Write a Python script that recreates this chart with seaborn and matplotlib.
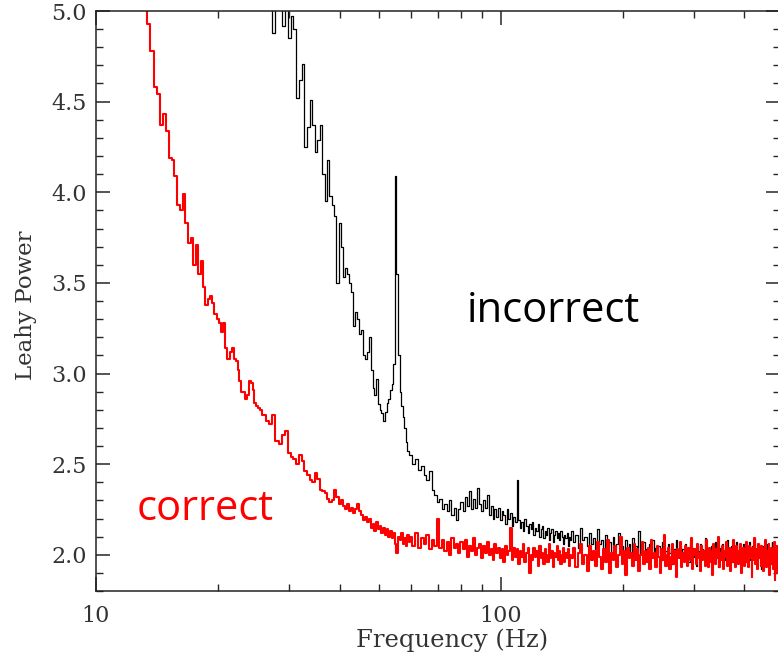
import numpy as np
import pandas as pd
import matplotlib
matplotlib.use("Agg")
import matplotlib.pyplot as plt
import seaborn as sns
from matplotlib.ticker import FixedLocator, FixedFormatter, MultipleLocator, NullFormatter, FormatStrFormatter

# ---------------- data (Leahy power vs frequency) ----------------
# "correct" spectrum (red), piecewise regular frequency grids
red_a_start, red_a_step = 12.0, 0.25
red_a = [5.90, 5.75, 5.60, 5.45, 5.30, 5.12,
         4.93, 4.78, 4.58, 4.54, 4.37, 4.43, 4.34, 4.19, 4.18, 4.09,
         3.93, 3.90, 3.99, 3.83, 3.72, 3.75, 3.60, 3.71, 3.55, 3.62,
         3.48, 3.38, 3.41, 3.43, 3.39, 3.33, 3.30, 3.28,
         3.23, 3.28, 3.14, 3.08, 3.12, 3.14, 3.08, 3.07, 3.02, 2.96,
         2.90, 2.90, 2.86, 2.88, 2.96, 2.95, 2.91, 2.84, 2.82, 2.81, 2.80]
red_b_start, red_b_step = 26.0, 0.5
red_b = [2.77, 2.74, 2.72, 2.77, 2.63, 2.61, 2.66, 2.68, 2.56, 2.54,
         2.53, 2.50, 2.55, 2.52, 2.46, 2.44, 2.41, 2.40, 2.45, 2.42,
         2.36, 2.35, 2.34, 2.31, 2.29, 2.30, 2.36, 2.32, 2.28, 2.30,
         2.27, 2.25, 2.28, 2.24, 2.26, 2.23, 2.25, 2.28, 2.24, 2.22,
         2.19, 2.21, 2.18, 2.20, 2.15, 2.17, 2.13, 2.18, 2.14, 2.16,
         2.12, 2.15, 2.11, 2.14, 2.10, 2.13, 2.09, 2.12, 2.06, 2.01,
         2.10, 2.08, 2.12, 2.06, 2.09, 2.05, 2.11, 2.07]
red_c_start, red_c_step = 60.0, 1.0
red_c = [2.10, 2.05, 2.12, 2.04, 2.09, 2.06, 2.11, 2.03, 2.08, 2.05,
         2.20, 2.04, 2.08, 2.02, 2.07, 2.00, 2.09, 2.04, 2.06, 2.01,
         2.07, 2.03, 2.08, 1.99, 2.05, 2.02, 2.09, 2.00, 2.04, 2.06,
         1.98, 2.05, 2.01, 2.07, 2.00, 2.03, 1.97, 2.06, 2.01, 2.04,
         1.98, 2.03, 1.96, 2.05, 2.00, 2.02, 2.15, 1.97, 2.04, 1.99,
         2.03, 1.95, 2.02, 1.99, 2.06, 1.96, 2.01, 2.04, 1.90, 2.00,
         1.97, 2.04, 1.99, 2.02, 1.94, 2.05, 1.98, 2.01, 1.95, 2.03,
         2.00, 1.96, 2.06, 1.98, 2.02, 1.93, 2.01, 1.99, 2.05, 1.97,
         2.02, 1.95, 2.00, 2.04, 1.96, 2.01, 1.98, 2.03, 1.94, 2.00]
red_d_start, red_d_step = 150.0, 2.0
red_d = [1.98, 2.04, 1.93, 2.01, 2.06, 1.95, 2.00, 1.91, 2.05, 1.97,
         2.02, 1.94, 2.07, 1.99, 1.92, 2.03, 1.96, 2.08, 1.90, 2.01,
         1.97, 2.05, 1.93, 2.00, 2.10, 1.95, 2.02, 1.89, 2.04, 1.98,
         2.01, 1.94, 2.06, 1.97, 2.03, 1.91, 2.00, 2.07, 1.95, 2.02,
         1.96, 2.04, 1.92, 2.08, 1.98, 2.01, 1.93, 2.05, 1.99, 1.90,
         2.03, 1.97, 2.11, 1.94, 2.00, 2.04, 1.92, 1.99, 2.06, 1.95,
         2.02, 1.88, 2.03, 1.98, 2.07, 1.93, 2.01, 1.96, 2.05, 1.99,
         1.94, 2.04, 1.97, 2.09, 1.92, 2.00, 2.03, 1.95, 2.06, 1.98,
         2.01, 1.91, 2.05, 1.97, 2.02, 1.94, 2.08, 1.99, 1.93, 2.04,
         1.96, 2.02, 1.89, 2.06, 2.00, 1.95, 2.03, 1.98, 2.10, 1.93,
         2.01, 1.97, 2.05, 1.92, 2.02, 1.99, 2.07, 1.94, 2.00, 2.04,
         1.91, 2.03, 1.96, 2.08, 1.98, 1.93, 2.05, 2.00, 1.95, 2.02,
         1.97, 2.06, 1.90, 2.01, 2.04, 1.94, 1.99, 2.07, 1.96, 2.02,
         1.93, 2.05, 1.98, 2.00, 1.88, 2.04, 1.97, 2.09, 1.95, 2.01,
         2.03, 1.92, 2.06, 1.98, 2.00, 1.94, 2.05, 1.99, 1.91, 2.04,
         1.96, 2.08, 1.93, 2.02, 1.97, 2.06, 1.89, 2.01, 2.04, 1.95,
         2.00, 1.92, 2.07, 1.86, 2.03, 1.97, 2.05, 1.90, 2.02, 1.98]

# "incorrect" spectrum (black)
blk_a_start, blk_a_step = 24.0, 0.5
blk_a = [5.80, 5.70, 5.60, 5.50, 5.40, 5.30, 5.20, 4.88,
         5.15, 5.10, 4.92, 5.05, 4.85, 4.97, 4.90, 4.52,
         4.62, 4.71, 4.25, 4.36, 4.51, 4.37, 4.22, 4.29,
         4.37, 4.10, 3.95, 4.18, 3.98, 3.93, 3.87, 3.50,
         3.83, 3.70, 3.53, 3.58, 3.55, 3.50, 3.45, 3.26,
         3.34, 3.30, 3.22, 3.24, 3.10, 3.08, 3.12, 3.20,
         3.02, 2.92, 2.88, 2.97, 2.83, 2.80, 2.78, 2.74,
         2.79, 2.84, 2.86, 2.91, 2.94, 3.05, 4.09, 3.55,
         3.10, 2.90, 2.82, 2.76, 2.70, 2.62, 2.57, 2.55]
blk_b_start, blk_b_step = 60.0, 1.0
blk_b = [2.55, 2.50, 2.53, 2.47, 2.49, 2.44, 2.41, 2.46, 2.36, 2.33,
         2.29, 2.31, 2.25, 2.28, 2.24, 2.30, 2.22, 2.26, 2.19, 2.25,
         2.29, 2.24, 2.32, 2.27, 2.35, 2.25, 2.31, 2.26, 2.37, 2.28,
         2.24, 2.30, 2.26, 2.33, 2.22, 2.27, 2.20, 2.25, 2.21, 2.26,
         2.19, 2.24, 2.22, 2.17, 2.25, 2.20, 2.23, 2.16, 2.21, 2.18,
         2.41, 2.19, 2.15, 2.18, 2.13, 2.20, 2.16, 2.12, 2.17, 2.14,
         2.18, 2.11, 2.15, 2.13, 2.17, 2.10, 2.14, 2.16, 2.09, 2.13,
         2.11, 2.15, 2.08, 2.12, 2.14, 2.07, 2.11, 2.13, 2.09, 2.12,
         2.08, 2.13, 2.10, 2.06, 2.11, 2.09, 2.12, 2.05, 2.10, 2.08]
blk_c_start, blk_c_step = 150.0, 2.0
blk_c = [2.13, 2.07, 2.11, 2.04, 2.15, 2.08, 2.10, 2.05, 2.12, 2.06,
         2.09, 2.03, 2.14, 2.06, 2.08, 2.02, 2.11, 2.05, 2.07, 2.01,
         2.10, 2.04, 2.06, 2.12, 2.03, 2.05, 2.00, 2.08, 2.02, 2.06,
         1.99, 2.09, 2.03, 2.05, 1.98, 2.13, 2.01, 2.04, 2.07, 2.00,
         2.03, 1.97, 2.06, 2.02, 2.08, 1.99, 2.04, 2.01, 2.05, 1.96,
         2.03, 2.07, 2.00, 2.02, 1.98, 2.06, 2.01, 2.04, 1.95, 2.03,
         2.00, 2.08, 1.99, 2.02, 2.05, 1.97, 2.03, 2.00, 2.06, 1.98,
         2.02, 1.96, 2.07, 2.01, 2.04, 1.99, 2.03, 1.94, 2.05, 2.00,
         2.02, 2.06, 1.98, 2.03, 2.00, 2.09, 1.97, 2.02, 2.04, 1.99,
         2.01, 2.05, 1.96, 2.03, 2.00, 2.07, 1.98, 2.02, 1.93, 2.04,
         2.01, 1.99, 2.06, 2.02, 1.97, 2.04, 2.00, 2.08, 1.98, 2.03,
         2.00, 2.05, 1.96, 2.02, 2.04, 1.99, 2.07, 2.01, 1.97, 2.03,
         2.05, 1.98, 2.02, 2.00, 2.06, 1.95, 2.03, 2.01, 2.04, 1.99,
         2.02, 2.07, 1.97, 2.03, 2.00, 2.05, 1.98, 2.09, 2.01, 1.96,
         2.03, 2.00, 2.06, 1.98, 2.02, 2.04, 1.92, 2.01, 2.05, 1.99,
         2.03, 1.97, 2.06, 2.00, 2.02, 1.98, 2.04, 2.01, 1.95, 2.07,
         2.00, 2.03, 1.98, 2.05, 1.90, 2.02, 2.00, 2.04, 1.97, 2.03]

x_major = [10, 100, 1000]
x_major_labels = ["10", "100", "1000"]
x_minor = [20, 30, 40, 50, 60, 70, 80, 90, 200, 300, 400, 500, 600, 700, 800, 900]


def build(segments, name):
    freqs, powers = [], []
    for start, step, vals in segments:
        freqs.append(start + step * np.arange(len(vals)))
        powers.append(np.asarray(vals))
    return pd.DataFrame({"Frequency": np.concatenate(freqs),
                         "Power": np.concatenate(powers),
                         "series": name})


df_red = build([(red_a_start, red_a_step, red_a), (red_b_start, red_b_step, red_b),
                (red_c_start, red_c_step, red_c), (red_d_start, red_d_step, red_d)], "correct")
df_blk = build([(blk_a_start, blk_a_step, blk_a), (blk_b_start, blk_b_step, blk_b),
                (blk_c_start, blk_c_step, blk_c)], "incorrect")

# ---------------- style ----------------
sns.set_theme(style="ticks")
plt.rcParams["font.family"] = ["DejaVu Serif"]

W, H = 778, 656
fig = plt.figure(figsize=(W / 100, H / 100), dpi=100)
ax = fig.add_axes([96 / W, 65 / H, 684 / W, 580 / H])

sns.lineplot(data=df_blk, x="Frequency", y="Power", color="black", linewidth=0.9,
             drawstyle="steps-mid", estimator=None, ax=ax, legend=False)
sns.lineplot(data=df_red, x="Frequency", y="Power", color="#ff0000", linewidth=1.5,
             drawstyle="steps-mid", estimator=None, ax=ax, legend=False)

ax.set_xscale("log")
ax.set_xlim(10, 490)
ax.set_ylim(1.8, 5.0)

ax.xaxis.set_major_locator(FixedLocator(x_major))
ax.xaxis.set_major_formatter(FixedFormatter(x_major_labels))
ax.xaxis.set_minor_locator(FixedLocator(x_minor))
ax.xaxis.set_minor_formatter(NullFormatter())
ax.yaxis.set_major_locator(MultipleLocator(0.5))
ax.yaxis.set_minor_locator(MultipleLocator(0.1))
ax.yaxis.set_major_formatter(FormatStrFormatter("%.1f"))

ax.tick_params(which="both", direction="in", top=True, right=True, labelsize=16)
ax.tick_params(which="major", length=10, width=1.1)
ax.tick_params(which="minor", length=5, width=1.0)
ax.tick_params(axis="x", which="major", pad=10)
ax.tick_params(axis="y", which="major", pad=6.5)
for lbl in ax.get_xticklabels() + ax.get_yticklabels():
    lbl.set_color("#333333")
for s in ax.spines.values():
    s.set_linewidth(1.1)
    s.set_color("#222222")

ax.set_xlabel("Frequency (Hz)", fontsize=17.5, color="#333333")
ax.set_ylabel("Leahy Power", fontsize=16.5, color="#333333")
ax.xaxis.set_label_coords((452 - 96) / 684, -0.065)
ax.yaxis.set_label_coords(-0.086, (591 - 305) / 580)

fig.text(467 / W, 1 - 322 / H, "incorrect", fontsize=30, family="Open Sans",
         color="black", ha="left", va="baseline")
fig.text(137 / W, 1 - 520 / H, "correct", fontsize=30, family="Open Sans",
         color="#ff0000", ha="left", va="baseline")

fig.canvas.draw()
fig.savefig("out.png", dpi=100)
